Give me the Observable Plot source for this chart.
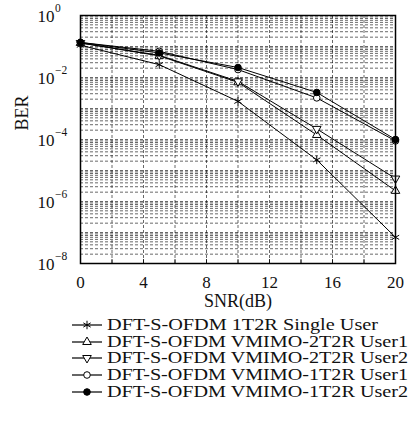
<!DOCTYPE html>
<html><head><meta charset="utf-8">
<script src="https://cdn.jsdelivr.net/npm/d3@7"></script>
<script src="https://cdn.jsdelivr.net/npm/@observablehq/plot@0.6"></script>
<style>body{margin:0;background:#fff;} svg{display:block} svg text{font-family:'Liberation Serif' !important;}</style>
</head><body><div id="chart"></div><script>
const snr = [0, 5, 10, 15, 20];
const seriesNames = [
  "DFT-S-OFDM 1T2R Single User",
  "DFT-S-OFDM VMIMO-2T2R User1",
  "DFT-S-OFDM VMIMO-2T2R User2",
  "DFT-S-OFDM VMIMO-1T2R User1",
  "DFT-S-OFDM VMIMO-1T2R User2"
];
const berSingle    = [0.11, 0.026, 1.7e-3, 2.2e-5, 7e-8];
const ber2T2RUser1 = [0.13, 0.05, 7e-3, 1.4e-4, 2.2e-6];
const ber2T2RUser2 = [0.13, 0.052, 7.5e-3, 2.2e-4, 5.5e-6];
const ber1T2RUser1 = [0.135, 0.07, 0.018, 2.2e-3, 9e-5];
const ber1T2RUser2 = [0.135, 0.062, 0.021, 3.3e-3, 1e-4];
const xTicks = [0, 4, 8, 12, 16, 20];
const xGrid = [2, 4, 6, 8, 10, 12, 14, 16, 18];
const yTicks = [1, 1e-2, 1e-4, 1e-6, 1e-8];
const yTickBase = ["10", "10", "10", "10", "10"];
const yTickExp = ["0", "\u22122", "\u22124", "\u22126", "\u22128"];

const allSeries = [berSingle, ber2T2RUser1, ber2T2RUser2, ber1T2RUser1, ber1T2RUser2];
const styles = [
  {symbol: "asterisk", fill: "none", r: 4.0, rotate: 0},
  {symbol: "triangle", fill: "white", r: 3.2, rotate: 0},
  {symbol: "triangle", fill: "white", r: 3.2, rotate: 180},
  {symbol: "circle", fill: "white", r: 3.3, rotate: 0},
  {symbol: "circle", fill: "black", r: 3.3, rotate: 0}
];
const rows = [];
allSeries.forEach((vals, i) => vals.forEach((v, j) => rows.push({series: seriesNames[i], idx: i, snr: snr[j], ber: v})));

// log minor grid
const yGrid = [];
for (let e = -8; e < 0; e++) for (let k = 1; k <= 9; k++) yGrid.push(k * Math.pow(10, e));

const FONT = "Liberation Serif";
const marks = [
  Plot.ruleY(yGrid, {stroke: "#000", strokeWidth: 0.7, strokeDasharray: "3,2", strokeOpacity: 0.85}),
  Plot.ruleX(xGrid, {stroke: "#000", strokeWidth: 0.7, strokeDasharray: "3,2", strokeOpacity: 0.85}),
  Plot.axisX({ticks: xGrid, tickSize: -4, tickFormat: () => "", label: null, strokeWidth: 0.8}),
  Plot.axisX({ticks: xTicks, tickSize: 0, tickPadding: 12, label: null, fontSize: 17, fill: "#111"}),
  Plot.text(yTicks, {frameAnchor: "left", y: d => d, text: (d, i) => yTickBase[i], textAnchor: "start", dx: -43, dy: 1, fontSize: 17, fill: "#111"}),
  Plot.text(yTicks, {frameAnchor: "left", y: d => d, text: (d, i) => yTickExp[i], textAnchor: "start", dx: -25.5, dy: -7, fontSize: 11.5, fill: "#111"}),
  Plot.text(["SNR(dB)"], {frameAnchor: "bottom", dy: 43, fontSize: 18, fill: "#111"}),
  Plot.text(["BER"], {frameAnchor: "left", dx: -58, dy: -9, rotate: -90, fontSize: 18, fill: "#111"})
];
seriesNames.forEach((name, i) => {
  const d = rows.filter(r => r.idx === i);
  marks.push(Plot.line(d, {x: "snr", y: "ber", stroke: "black", strokeWidth: 1}));
});
seriesNames.forEach((name, i) => {
  const d = rows.filter(r => r.idx === i);
  const s = styles[i];
  marks.push(Plot.dot(d, {x: "snr", y: "ber", symbol: s.symbol, r: s.r, rotate: s.rotate, fill: s.fill, stroke: "black", strokeWidth: 1}));
});
marks.push(Plot.frame({stroke: "black", strokeWidth: 1.5}));

const chart = Plot.plot({
  width: 418, height: 316,
  marginLeft: 80, marginRight: 23, marginTop: 15, marginBottom: 53,
  style: {fontFamily: FONT, background: "white"},
  x: {domain: [0, 20], axis: null},
  y: {type: "log", domain: [1e-8, 1], axis: null},
  marks
});
const root = document.getElementById("chart");
root.appendChild(chart);

// legend below the plot
const lg = d3.create("svg").attr("width", 418).attr("height", 114).style("overflow", "visible");
const rowY = [9, 26, 42, 59, 76];
const lengths = [271, 301, 301, 301, 301];
seriesNames.forEach((name, i) => {
  const g = lg.append("g").attr("transform", `translate(0,${rowY[i]})`);
  g.append("line").attr("x1", 72).attr("x2", 102).attr("y1", 0).attr("y2", 0).attr("stroke", "black").attr("stroke-width", 1.2);
  const s = styles[i];
  const sym = {asterisk: d3.symbolAsterisk, triangle: d3.symbolTriangle, circle: d3.symbolCircle}[s.symbol];
  g.append("path").attr("d", d3.symbol(sym, Math.PI * s.r * s.r)())
    .attr("transform", `translate(87,0) rotate(${s.rotate})`)
    .attr("fill", s.fill).attr("stroke", "black").attr("stroke-width", 1);
  g.append("text").attr("x", 107).attr("y", 0).attr("dy", "0.33em").attr("font-size", 16)
    .attr("font-family", FONT)
    .attr("fill", "#111").attr("textLength", lengths[i]).attr("lengthAdjust", "spacingAndGlyphs").text(name);
});
root.appendChild(lg.node());
</script></body></html>
